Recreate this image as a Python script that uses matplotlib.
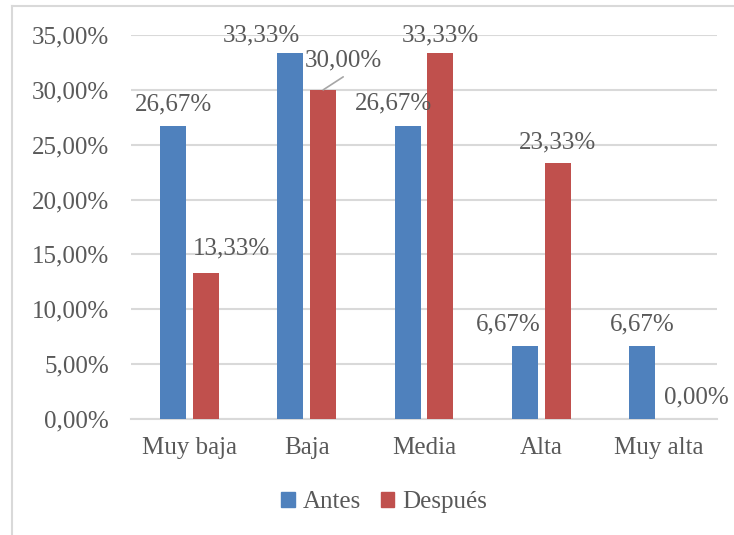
import matplotlib
matplotlib.use("Agg")
import matplotlib.pyplot as plt
from matplotlib.lines import Line2D
import numpy as np

categories = ["Muy baja", "Baja", "Media", "Alta", "Muy alta"]
antes = [26.67, 33.33, 26.67, 6.67, 6.67]
despues = [13.33, 30.00, 33.33, 23.33, 0.00]
series_names = ["Antes", "Después"]
yticks = [0, 5, 10, 15, 20, 25, 30, 35]

# label offsets (pixels) relative to bar top centre, baseline aligned
antes_off = [(0, 16), (-29, 12), (-14, 17), (-17, 15), (0, 15)]
despues_off = [(25, 18), (20, 23), (0, 12), (0, 15), (22, 16)]
despues_leader = [False, True, False, False, False]

BLUE = "#4F81BD"
RED = "#C0504D"
TXT = "#595959"
GRID = "#D9D9D9"
FONT = "Liberation Serif"
FS = 18

plt.rcParams["font.family"] = [FONT, "DejaVu Serif"]

fig = plt.figure(figsize=(7.34, 5.35), dpi=100)
W, H = 734, 535
ax = fig.add_axes([131 / W, 1 - 419 / H, (717 - 131) / W, (419 - 35) / H])

x = np.arange(len(categories))
bw = 0.222
off = 0.14
b1 = ax.bar(x - off, antes, bw, color=BLUE, zorder=3)
b2 = ax.bar(x + off, despues, bw, color=RED, zorder=3)

def fmt(v):
    return f"{v:.2f}".replace(".", ",") + "%"

for xi, v, (dx, dy) in zip(x - off, antes, antes_off):
    ax.annotate(fmt(v), xy=(xi, v), xytext=(dx, dy), textcoords="offset pixels",
                ha="center", va="baseline", fontsize=FS, color=TXT, zorder=5)
for xi, v, (dx, dy), lead in zip(x + off, despues, despues_off, despues_leader):
    ax.annotate(fmt(v), xy=(xi, v), xytext=(dx, dy), textcoords="offset pixels",
                ha="center", va="baseline", fontsize=FS, color=TXT, zorder=5)
    if lead:
        ax.annotate("", xy=(xi, v), xytext=(20, 13), textcoords="offset pixels",
                    arrowprops=dict(arrowstyle="-", color="#A6A6A6", lw=1.2,
                                    shrinkA=0, shrinkB=0), zorder=5)

ax.set_xlim(-0.5, len(categories) - 0.5)
ax.set_ylim(0, 35)
ax.set_yticks(yticks)
ax.set_yticklabels([fmt(t) for t in yticks], fontsize=FS, color=TXT)
ax.set_xticks(x)
ax.set_xticklabels(categories, fontsize=FS, color=TXT)
ax.tick_params(axis="both", length=0)
ax.tick_params(axis="y", pad=16)
ax.tick_params(axis="x", pad=13)
ax.yaxis.grid(True, color=GRID, lw=1.5, zorder=0)
for s in ["top", "right", "left"]:
    ax.spines[s].set_visible(False)
ax.spines["bottom"].set_color(GRID)
ax.spines["bottom"].set_linewidth(1.5)

handles = [plt.Rectangle((0, 0), 1, 1, color=BLUE), plt.Rectangle((0, 0), 1, 1, color=RED)]
fig.legend(handles, series_names, loc="center", bbox_to_anchor=(384 / W, 1 - 502 / H),
           ncol=2, frameon=False, fontsize=FS, labelcolor=TXT,
           handlelength=0.55, handleheight=0.55, handletextpad=0.3, columnspacing=0.8)

# chart border (only top and left visible in the crop)
fig.add_artist(Line2D([12 / W, 12 / W], [0, 1 - 6 / H], color="#D9D9D9", lw=1.5))
fig.add_artist(Line2D([12 / W, 1], [1 - 6 / H, 1 - 6 / H], color="#D9D9D9", lw=1.5))

fig.savefig("out.png", dpi=100)
